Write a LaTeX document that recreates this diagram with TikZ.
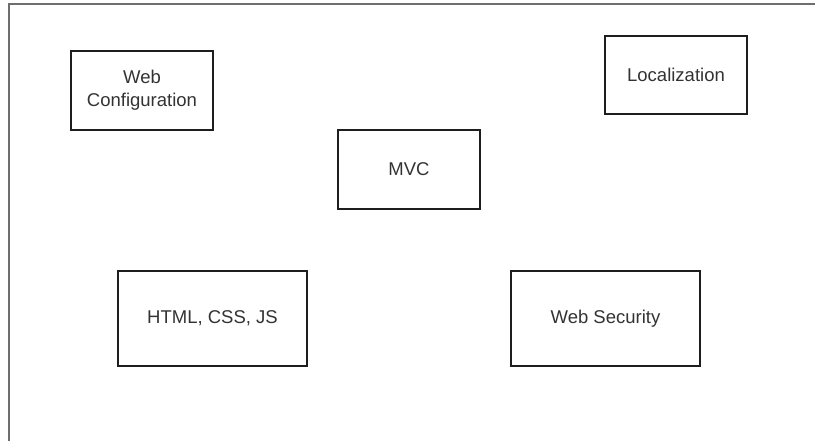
\documentclass[tikz,border=0pt]{standalone}
\usepackage{fontspec}
\setmainfont{Liberation Sans}
\definecolor{framegray}{HTML}{6E6E6E}
\definecolor{boxline}{HTML}{1E1E1E}
\definecolor{labeltext}{HTML}{333333}
\begin{document}
\begin{tikzpicture}[x=1pt,y=-1pt,
  module/.style={draw=boxline, line width=1.5pt, fill=white, align=center,
    text=labeltext, font=\fontsize{18.5}{23}\selectfont, inner sep=0pt}]
\useasboundingbox (0,0) rectangle (815,441);
\fill[white] (0,0) rectangle (815,441);
% outer canvas edge (top and left)
\draw[framegray, line width=2pt] (8.5,441) -- (8.5,4.5) -- (815,4.5);
% modules
\node[module, minimum width=142pt, minimum height=79pt] (webcfg) at (142,90.5) {Web\\Configuration};
\node[module, minimum width=142pt, minimum height=78pt] (loc) at (676,75) {Localization};
\node[module, minimum width=142pt, minimum height=79pt] (mvc) at (409,169.5) {MVC};
\node[module, minimum width=189pt, minimum height=95pt] (front) at (212.5,318.5) {HTML, CSS, JS};
\node[module, minimum width=189pt, minimum height=95pt] (sec) at (605.5,318.5) {Web Security};
\end{tikzpicture}
\end{document}
